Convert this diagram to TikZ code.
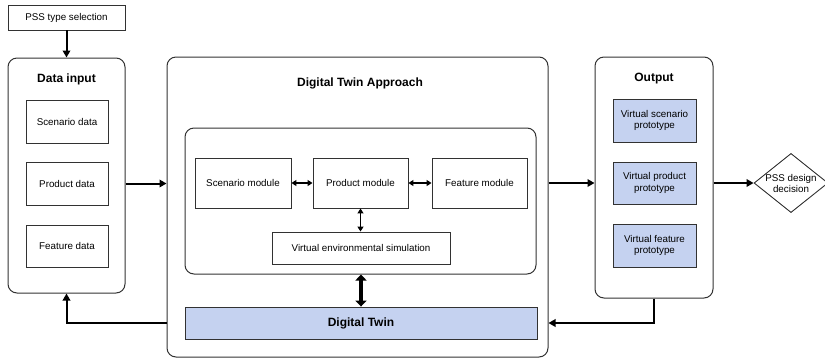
\documentclass[tikz,border=0pt]{standalone}
\usepackage{fontspec}
\setmainfont{Liberation Sans}
\usetikzlibrary{arrows.meta,shapes.geometric,calc}
\definecolor{boxblue}{RGB}{197,210,240}
\definecolor{edge}{RGB}{50,50,50}
\begin{document}
\begin{tikzpicture}[x=1pt,y=-1pt,
  box/.style={draw=edge,line width=0.9pt,inner sep=2pt,align=center,font=\fontsize{9.8}{11.8}\selectfont},
  outer/.style={draw=edge,line width=1pt,rounded corners=9pt},
  bluebox/.style={box,fill=boxblue},
  ttl/.style={font=\bfseries\fontsize{12}{14}\selectfont},
  arr/.style={line width=2pt,-{Triangle[length=7pt,width=7.5pt]}},
  darr/.style={line width=1.6pt,{Triangle[length=5pt,width=6pt]}-{Triangle[length=5pt,width=6pt]}},
  tarr/.style={line width=4pt,{Triangle[length=6pt,width=11pt]}-{Triangle[length=6pt,width=11pt]}}
]
\useasboundingbox (0,0) rectangle (825,360);
% left column
\node[box,minimum width=117pt,minimum height=25pt] (pss) at (66.5,17.5) {PSS type selection};
\node[outer,minimum width=117pt,minimum height=235pt] (datain) at (66.5,175.5) {};
\node[ttl] (dintitle) at (66.5,79) {Data input};
\node[box,minimum width=82pt,minimum height=43pt] (sd) at (67,121.5) {Scenario data};
\node[box,minimum width=82pt,minimum height=43pt] (pd) at (67,183.5) {Product data};
\node[box,minimum width=82pt,minimum height=42pt] (fd) at (67,246) {Feature data};
% middle
\node[outer,minimum width=381pt,minimum height=300pt] (dta) at (357.5,207) {};
\node[ttl] (dtatitle) at (360,83) {Digital Twin Approach};
\node[outer,minimum width=351pt,minimum height=146pt] (inner) at (360.5,201) {};
\node[box,minimum width=96pt,minimum height=50pt] (sm) at (243,183) {Scenario module};
\node[box,minimum width=95pt,minimum height=50pt] (pm) at (360.5,183) {Product module};
\node[box,minimum width=95pt,minimum height=50pt] (fm) at (479.5,183) {Feature module};
\node[box,minimum width=178pt,minimum height=32pt] (ves) at (361,248) {Virtual environmental simulation};
\node[bluebox,minimum width=352pt,minimum height=32pt,font=\bfseries\fontsize{12}{14}\selectfont] (dt) at (361,323) {Digital Twin};
% right
\node[outer,minimum width=118pt,minimum height=241pt] (out) at (654,177.5) {};
\node[ttl] (outtitle) at (654,79) {Output};
\node[bluebox,minimum width=83pt,minimum height=43pt] (vsp) at (654.5,120.5) {Virtual scenario\\prototype};
\node[bluebox,minimum width=83pt,minimum height=42pt] (vpp) at (654.5,183) {Virtual product\\prototype};
\node[bluebox,minimum width=83pt,minimum height=43pt] (vfp) at (654.5,245.5) {Virtual feature\\prototype};
\node[draw=edge,line width=0.9pt,diamond,aspect=1.25,minimum width=68pt,minimum height=55pt,inner sep=0pt,align=center,font=\fontsize{9.8}{11}\selectfont] (dec) at (791,183) {PSS design\\decision};
% connectors
\draw[arr] (pss.south) -- (datain.north);
\draw[arr] (datain.east |- pd.east) -- (dta.west |- pd.east);
\draw[darr] (sm.east) -- (pm.west);
\draw[darr] (pm.east) -- (fm.west);
\draw[darr] (pm.south) -- (pm.south |- ves.north);
\draw[tarr] (inner.south -| dt.north) -- (dt.north);
\draw[arr] (dta.east |- pm.east) -- (out.west |- pm.east);
\draw[arr] (out.east |- vpp.east) -- (dec.west);
\draw[arr] (out.south) |- (dta.east |- dt.east);
\draw[arr] (dta.west |- dt.west) -| (datain.south);
\end{tikzpicture}
\end{document}
